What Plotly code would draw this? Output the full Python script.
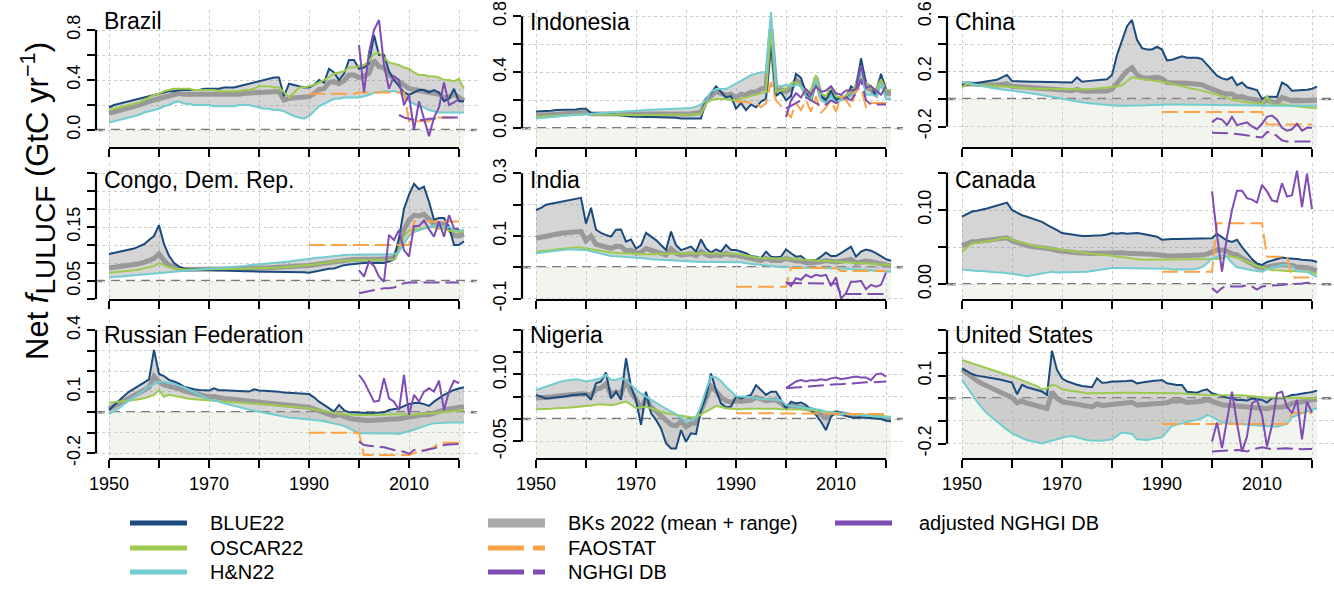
import plotly.graph_objects as go
import numpy as np

# ---------------------------------------------------------------- data
YEARS = list(range(1950, 2022))
FAO_YEARS = list(range(1990, 2021))
NGHGI_YEARS = list(range(2000, 2021))

COUNTRIES = ["Brazil", "Indonesia", "China",
             "Congo, Dem. Rep.", "India", "Canada",
             "Russian Federation", "Nigeria", "United States"]

brazil_blue = [.18,.20,.21,.22,.23,.24,.25,.26,.27,.28, .29,.30,.31,.31,.32,.32,.32,.32,.32,.33,
               .33,.33,.33,.34,.34,.34,.35,.36,.37,.38, .39,.40,.41,.42,.42,.27,.37,.36,.35,.34,
               .34,.36,.40,.38,.49,.46,.40,.45,.56,.56, .49,.50,.53,.76,.60,.60,.47,.40,.35,.30,
               .28,.30,.32,.32,.30,.32,.30,.23,.25,.33, .23,.23]
brazil_oscar = [.16,.17,.18,.19,.20,.21,.22,.24,.26,.28, .29,.31,.32,.33,.33,.33,.33,.32,.32,.32,
                .32,.32,.31,.31,.31,.31,.31,.32,.32,.33, .35,.35,.35,.34,.34,.30,.26,.30,.34,.34,
                .35,.36,.38,.40,.42,.45,.46,.47,.50,.50, .51,.52,.55,.61,.62,.58,.54,.53,.52,.50,
                .49,.46,.44,.44,.43,.43,.42,.40,.40,.39, .41,.33]
brazil_hn = [.06,.07,.08,.09,.10,.11,.12,.14,.15,.16, .17,.19,.20,.22,.23,.21,.21,.20,.20,.20,
             .20,.19,.19,.19,.19,.19,.20,.20,.20,.19, .18,.17,.17,.16,.16,.15,.13,.11,.10,.09,
             .11,.15,.19,.21,.23,.25,.25,.26,.26,.26, .26,.27,.28,.30,.30,.31,.31,.31,.30,.28,
             .23,.21,.19,.18,.16,.15,.14,.14,.14,.14, .14,.14]
brazil_fao = [.29,.29,.29,.29,.29,.29,.29,.29,.29,.29, .30,.30,.30,.30,.30,.30,.30,.30,.30,.30,
              .07,.07,.07,.07,.07,.10,.10,.10,.10,.10,.10]
brazil_nghgi = [None,None,None,None,None,None,None,None,.12,.10, .09,.08,.08,.08,.09,.09,.10,.10,.10,.10,.10]
brazil_adj = [.68,.30,.62,.80,.88,.52,.33,.43,.40,.20, .28,.00,.23,.10,-.05,.10,.18,.38,.20,.22,.25]

indonesia_blue = [.12,.12,.125,.125,.13,.13,.13,.135,.135,.14, .14,.11,.105,.10,.10,.10,.095,.09,.09,.085,
                  .083,.08,.08,.08,.08,.08,.075,.075,.075,.07, .07,.07,.07,.07,.21,.25,.30,.26,.22,.23,
                  .14,.18,.13,.17,.15,.19,.21,.61,.23,.26, .20,.23,.39,.36,.25,.20,.35,.23,.20,.27,
                  .20,.23,.21,.30,.27,.50,.32,.30,.23,.39, .27,.27]
indonesia_oscar = [.083,.085,.087,.09,.092,.094,.096,.098,.10,.10, .10,.10,.10,.098,.097,.095,.095,.095,.095,.095,
                   .094,.094,.094,.094,.095,.095,.095,.095,.096,.096, .097,.098,.10,.10,.18,.20,.21,.21,.21,.20,
                   .20,.21,.22,.23,.24,.25,.26,.69,.26,.27, .28,.32,.33,.30,.26,.27,.38,.25,.23,.30,
                   .23,.22,.23,.27,.30,.37,.32,.29,.27,.35, .27,.27]
indonesia_hn = [.07,.074,.078,.082,.086,.09,.092,.094,.096,.10, .10,.103,.106,.109,.112,.115,.118,.12,.123,.126,
                .13,.13,.131,.132,.133,.134,.135,.136,.137,.138, .14,.145,.155,.17,.20,.26,.28,.28,.28,.30,
                .32,.34,.36,.38,.39,.40,.40,.83,.31,.30, .31,.30,.31,.30,.23,.20,.35,.20,.18,.23,
                .18,.20,.21,.23,.26,.42,.24,.24,.23,.32, .21,.21]
indonesia_fao = [.19,.19,.19,.18,.18,.15,.18,.33,.20,.16, .12,.08,.18,.13,.20,.12,.23,.11,.15,.20,
                 .12,.23,.20,.15,.27,.29,.15,.18,.18,.18,.18]
indonesia_nghgi = [.14,.16,.18,.20,.22,.20,.18,.16,.17,.20, .18,.20,.22,.20,.25,.35,.20,.17,.17,.17,.17]
indonesia_adj = [.08,.20,.25,.22,.28,.24,.30,.26,.27,.30, .25,.24,.27,.27,.28,.45,.29,.30,.27,.24,.30]

china_blue = [.10,.105,.11,.115,.12,.125,.13,.14,.157,.175, .13,.128,.127,.126,.126,.126,.125,.124,.123,.122,
              .12,.12,.12,.157,.126,.13,.135,.14,.14,.143, .175,.32,.43,.53,.575,.43,.37,.36,.36,.38,
              .36,.28,.285,.30,.31,.30,.30,.30,.29,.25, .21,.17,.15,.14,.16,.10,.12,.085,.075,.065,
              .0,.017,.017,.015,.12,.10,.06,.062,.065,.068, .075,.09]
china_oscar = [.085,.11,.105,.10,.10,.098,.095,.092,.09,.088, .085,.083,.08,.078,.076,.075,.074,.073,.072,.071,
               .07,.07,.07,.07,.07,.07,.072,.075,.078,.08, .085,.09,.10,.13,.16,.15,.145,.14,.14,.135,
               .126,.12,.11,.10,.09,.083,.075,.07,.06,.05, .04,.032,.025,.01,-.005,-.012,-.02,-.025,-.03,-.033,
               -.036,.02,-.04,-.045,-.036,-.045,-.05,-.05,-.055,-.06, -.065,-.068]
china_hn = [.126,.118,.11,.10,.092,.085,.08,.075,.07,.067, .065,.06,.054,.047,.04,.034,.027,.02,.013,.006,
            .0,-.006,-.012,-.018,-.024,-.03,-.034,-.038,-.042,-.046, -.05,-.05,-.05,-.05,-.05,-.05,-.048,-.046,-.044,-.042,
            -.04,-.04,-.04,-.04,-.04,-.04,-.04,-.04,-.04,-.04, -.04,-.041,-.042,-.043,-.044,-.045,-.046,-.047,-.048,-.049,
            -.05,-.05,-.05,-.05,-.05,-.05,-.05,-.05,-.05,-.05, -.05,-.05]
china_fao = [-.095,-.095,-.095,-.095,-.095,-.095,-.095,-.095,-.095,-.095, -.095,-.095,-.095,-.095,-.095,-.095,-.095,-.095,-.095,-.095,
             -.095,-.185,-.185,-.185,-.185,-.185,-.185,-.185,-.185,-.185,-.185]
china_nghgi = [-.245,-.245,-.25,-.245,-.25,-.255,-.26,-.265,-.27,-.275, -.28,-.24,-.245,-.27,-.30,-.31,-.31,-.31,-.31,-.31,-.31]
china_adj = [-.17,-.14,-.15,-.19,-.13,-.19,-.18,-.17,-.20,-.22, -.18,-.13,-.12,-.15,-.21,-.23,-.22,-.18,-.23,-.21,-.21]

congo_blue = [.075,.078,.081,.084,.087,.09,.096,.102,.114,.125, .155,.103,.07,.05,.04,.035,.033,.032,.031,.03,
              .03,.03,.029,.029,.028,.028,.027,.027,.027,.026, .026,.026,.026,.026,.026,.026,.025,.025,.024,.024,
              .023,.026,.03,.032,.034,.035,.04,.044,.046,.048, .05,.05,.05,.05,.05,.05,.054,.06,.12,.20,
              .24,.27,.255,.262,.22,.17,.175,.175,.15,.10, .10,.11]
congo_oscar = [.023,.024,.025,.026,.028,.03,.032,.035,.038,.042, .05,.044,.038,.035,.033,.032,.032,.032,.032,.032,
               .032,.032,.033,.033,.033,.034,.034,.034,.035,.035, .036,.036,.036,.037,.037,.038,.039,.04,.041,.042,
               .044,.046,.048,.05,.052,.055,.056,.057,.057,.058, .058,.058,.058,.058,.058,.058,.059,.06,.086,.123,
               .14,.143,.146,.149,.15,.149,.145,.146,.14,.138, .136,.138]
congo_hn = [.01,.011,.012,.013,.014,.015,.016,.018,.019,.02, .021,.023,.024,.026,.027,.029,.03,.032,.033,.034,
            .035,.036,.037,.038,.039,.04,.041,.042,.044,.045, .046,.047,.048,.05,.051,.052,.054,.056,.058,.06,
            .063,.064,.065,.066,.068,.07,.071,.072,.073,.073, .074,.074,.074,.074,.074,.074,.074,.074,.081,.105,
            .126,.136,.14,.146,.15,.155,.154,.153,.15,.142, .14,.142]
congo_fao = [.10,.10,.10,.10,.10,.10,.10,.10,.10,.10, .10,.10,.10,.10,.10,.10,.10,.10,.10,.10,
             .10,.165,.165,.165,.165,.165,.165,.165,.165,.165,.165]
congo_nghgi = [-.034,-.031,-.028,-.025,-.022,-.02,-.02,-.018,-.012,-.006, -.004,-.004,-.004,-.004,-.004,-.004,-.004,-.004,-.004,-.004,-.004]
congo_adj = [.03,.012,.054,.042,.012,-.002,.128,.114,.142,.086, .068,.153,.153,.168,.144,.123,.165,.123,.183,.146,.144]

india_blue = [.183,.19,.20,.203,.206,.21,.213,.216,.219,.222, .14,.19,.12,.11,.103,.098,.12,.121,.082,.089,
              .06,.07,.11,.098,.087,.071,.055,.114,.071,.055, .06,.066,.05,.089,.06,.047,.057,.05,.071,.055,
              .055,.05,.045,.036,.034,.029,.05,.034,.032,.034, .057,.045,.034,.036,.023,.023,.023,.034,.047,.036,
              .036,.045,.055,.066,.034,.05,.057,.053,.045,.036, .026,.021]
india_oscar = [.05,.052,.054,.056,.058,.06,.061,.062,.063,.063, .06,.057,.054,.051,.049,.047,.046,.045,.044,.043,
               .043,.043,.042,.042,.042,.042,.043,.043,.044,.044, .045,.045,.045,.045,.045,.045,.045,.044,.044,.043,
               .043,.041,.038,.035,.032,.029,.029,.029,.029,.029, .029,.028,.027,.025,.024,.023,.022,.021,.02,.019,
               .018,.017,.016,.015,.014,.013,.012,.011,.01,.009, .008,.007]
india_hn = [.045,.047,.05,.052,.054,.057,.057,.057,.057,.057, .055,.051,.047,.043,.039,.036,.035,.034,.033,.032,
            .032,.03,.028,.026,.025,.023,.022,.021,.02,.019, .018,.018,.017,.017,.017,.017,.017,.017,.017,.018,
            .018,.016,.013,.011,.009,.007,.006,.004,.003,.001, .0,.0,-.001,-.001,-.002,-.002,-.002,-.002,-.003,-.003,
            -.003,-.004,-.005,-.006,-.007,-.008,-.009,-.01,-.011,-.012, -.013,-.014]
india_fao = [-.062,-.062,-.062,-.062,-.062,-.062,-.062,-.062,-.062,-.062, -.062,-.002,-.002,-.002,-.002,-.002,-.002,-.002,-.002,-.002,
             -.002,-.012,-.012,-.012,-.012,-.012,-.012,-.012,-.012,-.012,-.012]
india_nghgi = [-.05,-.05,-.05,-.05,-.05,-.05,-.05,-.05,-.05,-.05, -.052,-.085,-.085,-.085,-.085,-.085,-.085,-.085,-.085,-.085,-.085]
india_adj = [-.046,-.06,-.035,-.04,-.024,-.032,-.024,-.028,-.024,-.06, -.032,-.10,-.083,-.046,-.046,-.043,-.07,-.056,-.062,-.056,-.017]

canada_blue = [.091,.095,.098,.099,.10,.102,.104,.106,.109,.11, .10,.096,.093,.091,.089,.087,.084,.08,.077,.073,
               .069,.068,.067,.066,.065,.065,.065,.066,.066,.067, .069,.068,.069,.068,.069,.069,.068,.067,.066,.064,
               .06,.061,.061,.061,.061,.061,.061,.062,.062,.061, .062,.068,.064,.059,.057,.06,.05,.042,.034,.028,
               .026,.03,.032,.034,.036,.035,.034,.034,.033,.033, .032,.03]
canada_oscar = [.044,.05,.055,.056,.057,.057,.059,.06,.062,.063, .06,.058,.056,.054,.052,.051,.05,.049,.048,.047,
                .047,.046,.045,.044,.043,.042,.041,.04,.04,.039, .038,.037,.036,.035,.034,.033,.033,.033,.033,.033,
                .033,.033,.033,.033,.033,.033,.033,.033,.033,.033, .033,.034,.035,.038,.037,.036,.033,.03,.028,.025,
                .023,.021,.019,.019,.018,.018,.018,.018,.018,.017, .016,.014]
canada_hn = [.02,.019,.019,.018,.018,.017,.017,.016,.016,.015, .015,.014,.012,.011,.012,.013,.014,.015,.017,.016,
             .016,.016,.017,.017,.017,.017,.018,.019,.02,.021, .022,.022,.022,.022,.022,.022,.022,.022,.022,.022,
             .022,.021,.02,.02,.019,.019,.02,.021,.023,.028, .035,.037,.039,.037,.029,.023,.022,.021,.019,.018,
             .017,.02,.023,.024,.026,.026,.024,.018,.018,.017, .013,.01]
canada_fao = [.017,.017,.017,.017,.017,.017,.017,.017,.017,.017, .017,.082,.082,.082,.082,.082,.082,.082,.082,.082,
              .082,.037,.037,.037,.037,.037,.009,.009,.009,.009,.009]
canada_nghgi = [-.005,-.011,-.005,-.002,-.003,-.003,-.003,-.001,-.003,-.007, -.003,-.002,-.002,-.001,-.001,.0,.0,.001,.001,.002,.002]
canada_adj = [.125,.066,.017,.064,.10,.126,.126,.116,.114,.11, .134,.125,.113,.111,.136,.118,.12,.153,.104,.149,.101]

russia_blue = [.011,.035,.06,.08,.10,.117,.13,.145,.161,.304, .187,.177,.158,.15,.14,.125,.118,.112,.109,.107,
               .106,.117,.108,.107,.106,.106,.104,.103,.101,.112, .106,.105,.104,.102,.10,.096,.094,.093,.091,.09,
               .089,.073,.052,.036,.02,.003,.036,.011,.0,.0, .0,-.002,-.005,-.004,-.002,.0,.011,.015,.02,.03,
               .041,.045,.047,.04,.031,.052,.07,.085,.097,.109, .116,.122]
russia_oscar = [.047,.049,.052,.055,.058,.06,.064,.068,.076,.085, .109,.076,.085,.08,.074,.068,.066,.064,.062,.06,
                .057,.056,.054,.052,.05,.047,.046,.045,.043,.042, .041,.039,.037,.035,.033,.031,.029,.027,.025,.022,
                .02,.015,.01,.005,.0,-.005,-.007,-.009,-.011,-.012, -.013,-.013,-.013,-.013,-.013,-.013,-.011,-.009,-.008,-.01,
                -.013,-.011,-.008,-.005,-.005,-.005,-.003,.0,.003,.006, .009,.011]
russia_hn = [-.008,.005,.02,.04,.058,.076,.092,.108,.125,.138, .15,.148,.145,.14,.13,.122,.11,.098,.086,.074,
             .063,.058,.05,.044,.038,.031,.025,.019,.013,.008, .003,-.003,-.008,-.014,-.019,-.024,-.026,-.028,-.03,-.032,
             -.034,-.036,-.04,-.044,-.049,-.054,-.06,-.066,-.078,-.09, -.102,-.102,-.102,-.102,-.102,-.102,-.103,-.104,-.106,-.10,
             -.094,-.085,-.076,-.067,-.06,-.054,-.052,-.051,-.05,-.05, -.05,-.05]
russia_fao = [-.10,-.10,-.10,-.10,-.10,-.10,-.10,-.10,-.10,-.10, -.10,-.208,-.208,-.208,-.208,-.208,-.208,-.208,-.208,-.208,
              -.208,-.20,-.19,-.185,-.18,-.17,-.15,-.148,-.148,-.148,-.148]
russia_nghgi = [-.143,-.16,-.163,-.167,-.169,-.171,-.178,-.184,-.188,-.192, -.203,-.184,-.185,-.187,-.18,-.176,-.168,-.16,-.157,-.154,-.154]
russia_adj = [.182,.15,.101,.052,.057,.166,.068,.052,.011,.182, -.013,.085,.052,.101,.117,.101,.154,.011,.101,.154,.141]

nigeria_blue = [.054,.05,.046,.047,.048,.049,.051,.053,.054,.055, .056,.043,.08,.084,.104,.046,.061,.043,.136,.072,
                .043,-.013,.061,.013,-.002,-.021,-.054,-.066,-.066,-.025, -.051,-.032,-.034,.02,.05,.102,.065,.035,.026,.028,
                .05,.046,.05,.054,.076,.065,.054,.061,.061,.043, .024,.039,.035,.037,.031,.02,.009,-.006,-.025,.005,
                .016,.013,.007,.004,.003,.004,.003,.002,.002,.0, -.004,-.005]
nigeria_oscar = [.022,.022,.023,.023,.024,.024,.025,.026,.027,.027, .028,.03,.032,.033,.032,.031,.033,.036,.039,.032,
                 .024,.026,.028,.024,.02,.016,.013,.011,.009,.007, .005,.004,.004,.01,.016,.022,.029,.027,.024,.023,
                 .022,.022,.023,.023,.024,.024,.024,.023,.023,.022, .022,.022,.021,.021,.021,.02,.019,.018,.017,.015,
                 .013,.012,.011,.01,.01,.009,.008,.007,.006,.006, .005,.005]
nigeria_hn = [.065,.069,.073,.077,.081,.084,.086,.088,.089,.087, .084,.086,.088,.091,.099,.087,.088,.091,.087,.076,
              .065,.057,.05,.043,.035,.028,.023,.017,.011,.003, -.006,-.004,.005,.028,.065,.095,.093,.085,.072,.062,
              .051,.05,.05,.048,.046,.044,.044,.043,.043,.042, .031,.03,.028,.026,.025,.024,.022,.02,.016,.015,
              .013,.012,.011,.01,.01,.009,.008,.007,.006,.005, .004,.004]
nigeria_fao = [.013,.013,.013,.013,.013,.013,.013,.013,.013,.013, .012,.012,.012,.012,.012,.012,.012,.012,.012,.012,
               .012,.011,.011,.011,.011,.011,.011,.011,.011,.011,.011]
nigeria_nghgi = [.069,.07,.071,.072,.073,.074,.075,.075,.076,.077, .078,.078,.079,.08,.08,.081,.082,.082,.083,.083,.084]
nigeria_adj = [.069,.076,.084,.087,.084,.087,.086,.089,.087,.091, .093,.089,.091,.092,.095,.093,.093,.087,.10,.102,.095]

us_blue = [.132,.12,.107,.10,.097,.093,.089,.085,.081,.075, .069,.018,.059,.049,.043,.037,.03,.015,.21,.125,
           .088,.075,.066,.06,.054,.052,.049,.088,.069,.07, .074,.074,.074,.076,.078,.066,.07,.074,.076,.078,
           .081,.066,.062,.059,.059,.029,.027,.025,.034,.04, .022,.015,.007,.003,.0,-.007,-.007,-.01,-.001,-.004,
           -.007,-.019,.0,.0,.0,.007,.015,.017,.019,.024, .028,.034]
us_oscar = [.169,.162,.154,.147,.139,.132,.125,.118,.111,.103, .096,.088,.08,.071,.063,.054,.04,.044,.059,.055,
            .04,.036,.032,.029,.025,.022,.022,.023,.024,.025, .025,.025,.025,.025,.025,.025,.025,.025,.025,.025,
            .025,.024,.023,.022,.021,.019,.018,.017,.016,.015, .015,.015,.015,.015,.015,.015,.013,.011,.009,.006,
            .004,.004,.004,.004,.004,.004,.003,.002,.001,.0, .0,.0]
us_hn = [.081,.048,.015,-.015,-.042,-.066,-.085,-.104,-.122,-.138, -.154,-.166,-.176,-.184,-.19,-.196,-.199,-.193,-.187,-.18,
         -.172,-.169,-.166,-.172,-.178,-.184,-.186,-.187,-.187,-.184, -.181,-.166,-.151,-.154,-.157,-.181,-.183,-.184,-.18,-.176,
         -.172,-.147,-.122,-.116,-.11,-.103,-.099,-.094,-.088,-.074, -.081,-.094,-.107,-.109,-.111,-.113,-.115,-.116,-.118,-.12,
         -.122,-.123,-.124,-.125,-.119,-.113,-.084,-.074,-.066,-.058, -.051,-.044]
us_fao = [-.113,-.113,-.113,-.113,-.113,-.113,-.113,-.113,-.113,-.113, -.113,-.113,-.113,-.113,-.113,-.113,-.113,-.113,-.113,-.113,
          -.113,-.113,-.113,-.113,-.113,-.113,-.065,-.065,-.065,-.065,-.065]
us_nghgi = [-.235,-.233,-.232,-.23,-.229,-.228,-.23,-.235,-.225,-.22, -.216,-.22,-.225,-.222,-.22,-.22,-.222,-.225,-.225,-.224,-.224]
us_adj = [-.191,-.107,-.22,-.103,.029,-.11,-.235,-.169,-.022,-.007, -.074,-.213,-.118,.022,.029,-.037,-.066,-.007,-.181,-.015,-.063]

# y-axis tick values and their printed labels, per panel
Y_TICKS = [
    [0, .2, .4, .6, .8], [0, .2, .4, .6, .8], [-.2, 0, .2, .4, .6],
    [-.05, 0, .05, .10, .15, .20, .25, .30], [-.1, 0, .1, .2, .3], [0, .05, .10, .15],
    [-.2, -.1, 0, .1, .2, .3, .4], [-.05, 0, .05, .10, .15, .20], [-.2, -.1, 0, .1, .2, .3],
]
Y_TICKTEXT = [
    ["0.0", "", "0.4", "", "0.8"], ["0.0", "", "0.4", "", "0.8"], ["-0.2", "", "0.2", "", "0.6"],
    ["", "0.05", "", "", "0.15", "", "", ""], ["-0.1", "", "0.1", "", "0.3"], ["0.00", "", "0.10", ""],
    ["-0.2", "", "", "0.1", "", "", "0.4"], ["-0.05", "", "", "0.10", "", ""], ["-0.2", "", "", "0.1", "", ""],
]
X_TICKS = [1950, 1960, 1970, 1980, 1990, 2000, 2010, 2020]
X_TICKTEXT = ["1950", "", "1970", "", "1990", "", "2010", ""]

SERIES = {
    "Brazil": (brazil_blue, brazil_oscar, brazil_hn, brazil_fao, brazil_nghgi, brazil_adj),
    "Indonesia": (indonesia_blue, indonesia_oscar, indonesia_hn, indonesia_fao, indonesia_nghgi, indonesia_adj),
    "China": (china_blue, china_oscar, china_hn, china_fao, china_nghgi, china_adj),
    "Congo, Dem. Rep.": (congo_blue, congo_oscar, congo_hn, congo_fao, congo_nghgi, congo_adj),
    "India": (india_blue, india_oscar, india_hn, india_fao, india_nghgi, india_adj),
    "Canada": (canada_blue, canada_oscar, canada_hn, canada_fao, canada_nghgi, canada_adj),
    "Russian Federation": (russia_blue, russia_oscar, russia_hn, russia_fao, russia_nghgi, russia_adj),
    "Nigeria": (nigeria_blue, nigeria_oscar, nigeria_hn, nigeria_fao, nigeria_nghgi, nigeria_adj),
    "United States": (us_blue, us_oscar, us_hn, us_fao, us_nghgi, us_adj),
}
for _k, _v in SERIES.items():
    for _s, _n in zip(_v, (72, 72, 72, 31, 21, 21)):
        if len(_s) != _n:
            raise ValueError(f"{_k}: length {len(_s)} != {_n}")

# ---------------------------------------------------------------- style / layout
W, H = 1334, 591
FONT = "Liberation Sans, Arial, sans-serif"
C_BLUE, C_OSCAR, C_HN = "#1b4b7d", "#9dcb4f", "#72cdd0"
C_BK, C_BAND = "#999999", "rgba(150,150,150,0.40)"
C_FAO, C_NG = "#fca347", "#7e4cb2"
C_SHADE = "#f2f4ee"


def px_x(px):
    return px / W


def px_y(py):
    return 1 - py / H


COLS = [(96, 477, 1947.4), (522, 903, 1947.2), (947, 1334, 1947.0)]   # px left, right, year at left
ROWS = [(10, 148), (163, 300), (320, 459)]                               # px top, bottom
PXYR = 5.0
# px of the zero line, px per unit
YMAP = [(130.0, 125.0), (128.3, 140.0), (99.0, 137.5),
        (281.0, 360.0), (267.3, 313.0), (284.3, 743.0),
        (412.3, 205.0), (419.0, 446.7), (398.3, 226.7)]
TITLE_Y = [21, 22, 22, 180, 180, 180, 335, 335, 335]

fig = go.Figure()
layout = dict(width=W, height=H, margin=dict(l=0, r=0, t=0, b=0, autoexpand=False),
              paper_bgcolor="white", plot_bgcolor="white", showlegend=False,
              font=dict(family=FONT, color="black"))
shapes, annotations = [], []

for i, name in enumerate(COUNTRIES):
    r, c = divmod(i, 3)
    xl, xr, yr0 = COLS[c]
    yt, yb = ROWS[r]
    zpx, scale = YMAP[i]
    yrange = [(zpx - yb) / scale, (zpx - yt) / scale]
    xrange = [yr0, yr0 + (xr - xl) / PXYR]
    sfx = "" if i == 0 else str(i + 1)
    xid, yid = "x" + sfx, "y" + sfx

    layout["xaxis" + sfx] = dict(
        domain=[px_x(xl), min(1.0, px_x(xr))], range=xrange, anchor=yid, automargin=False,
        tickmode="array", tickvals=X_TICKS,
        ticktext=X_TICKTEXT if r == 2 else [""] * len(X_TICKS),
        ticks="outside", ticklen=8, tickwidth=2, tickcolor="black",
        tickfont=dict(size=18, family=FONT),
        showgrid=True, gridcolor="#cccccc", gridwidth=1, griddash="dot",
        zeroline=False, showline=False, fixedrange=True)
    layout["yaxis" + sfx] = dict(
        domain=[px_y(yb), px_y(yt)], range=yrange, anchor=xid, automargin=False,
        tickmode="array", tickvals=Y_TICKS[i], ticktext=Y_TICKTEXT[i], tickangle=-90,
        ticks="outside", ticklen=8, tickwidth=2, tickcolor="black",
        tickfont=dict(size=18, family=FONT),
        showgrid=True, gridcolor="#cccccc", gridwidth=1, griddash="dot",
        zeroline=False, showline=False, fixedrange=True)

    # sink (negative) region shading
    shapes.append(dict(type="rect", xref=xid, yref=yid, x0=1950, x1=2021,
                       y0=yrange[0], y1=0, fillcolor=C_SHADE, line=dict(width=0), layer="below"))
    # zero line
    shapes.append(dict(type="line", xref=xid + " domain", yref=yid, x0=0, x1=1, y0=0, y1=0,
                       line=dict(color="#7a7a7a", width=2.4, dash="9px,6px"), layer="below"))
    # R-style axis spines
    shapes.append(dict(type="line", xref=xid + " domain", yref=yid, x0=0, x1=0,
                       y0=min(Y_TICKS[i]), y1=max(Y_TICKS[i]), line=dict(color="black", width=2.2)))
    shapes.append(dict(type="line", xref=xid, yref=yid + " domain", x0=X_TICKS[0], x1=X_TICKS[-1],
                       y0=0, y1=0, line=dict(color="black", width=2.2)))
    annotations.append(dict(text=name, xref="paper", yref="paper", x=px_x(xl + 6), y=px_y(TITLE_Y[i]),
                            xanchor="left", yanchor="middle", showarrow=False,
                            font=dict(size=23, family=FONT, color="black")))

    blue, oscar, hn, fao, nghgi, adj = SERIES[name]
    stack = np.array([blue, oscar, hn], dtype=float)
    lo, hi, mean = stack.min(axis=0), stack.max(axis=0), stack.mean(axis=0)
    common = dict(xaxis=xid, yaxis=yid, mode="lines", hoverinfo="skip")
    fig.add_trace(go.Scatter(x=YEARS, y=lo, line=dict(width=0, color=C_BK), **common))
    fig.add_trace(go.Scatter(x=YEARS, y=hi, line=dict(width=0, color=C_BK), fill="tonexty",
                             fillcolor=C_BAND, **common))
    fig.add_trace(go.Scatter(x=YEARS, y=mean, line=dict(width=5, color=C_BK), **common))
    fig.add_trace(go.Scatter(x=YEARS, y=blue, line=dict(width=2, color=C_BLUE), **common))
    fig.add_trace(go.Scatter(x=YEARS, y=oscar, line=dict(width=2, color=C_OSCAR), **common))
    fig.add_trace(go.Scatter(x=YEARS, y=hn, line=dict(width=2, color=C_HN), **common))
    fig.add_trace(go.Scatter(x=FAO_YEARS, y=fao, line=dict(width=2, color=C_FAO, dash="16px,6px"), **common))
    fig.add_trace(go.Scatter(x=NGHGI_YEARS, y=nghgi, line=dict(width=2, color=C_NG, dash="16px,6px"), **common))
    fig.add_trace(go.Scatter(x=NGHGI_YEARS, y=adj, line=dict(width=2, color=C_NG), **common))

# y-axis title
annotations.append(dict(
    text="Net <i>f</i><sub><span style='font-size:28px'>LULUCF</span></sub> (GtC yr<sup>\u22121</sup>)",
    xref="paper", yref="paper", x=px_x(38), y=px_y(201), textangle=-90,
    xanchor="center", yanchor="middle", showarrow=False,
    font=dict(size=31, family=FONT, color="black")))

# manual legend (three columns)
LEGEND = [
    ("BLUE22", C_BLUE, 5, "solid", 0, 0),
    ("OSCAR22", C_OSCAR, 5, "solid", 0, 1),
    ("H&N22", C_HN, 5, "solid", 0, 2),
    ("BKs 2022 (mean + range)", "#aaaaaa", 9, "solid", 1, 0),
    ("FAOSTAT", C_FAO, 5, "36px,9px", 1, 1),
    ("NGHGI DB", C_NG, 5, "36px,9px", 1, 2),
    ("adjusted NGHGI DB", C_NG, 5, "solid", 2, 0),
]
LEG_X = [(130, 187, 208), (488, 545, 566), (835, 892, 917)]
LEG_Y = [523, 548, 572]
for label, col, lw, dash, lc, lr in LEGEND:
    x0, x1, tx = LEG_X[lc]
    yy = px_y(LEG_Y[lr])
    shapes.append(dict(type="line", xref="paper", yref="paper", x0=px_x(x0), x1=px_x(x1), y0=yy, y1=yy,
                       line=dict(color=col, width=lw, dash=dash)))
    annotations.append(dict(text=label, xref="paper", yref="paper", x=px_x(tx), y=yy,
                            xanchor="left", yanchor="middle", showarrow=False,
                            font=dict(size=20, family=FONT, color="black")))

layout["shapes"] = shapes
layout["annotations"] = annotations
fig.update_layout(**layout)
fig.write_html("out.html", config={"displayModeBar": False, "staticPlot": True},
               post_script="document.body.style.margin='0px';document.body.style.overflow='hidden';")
